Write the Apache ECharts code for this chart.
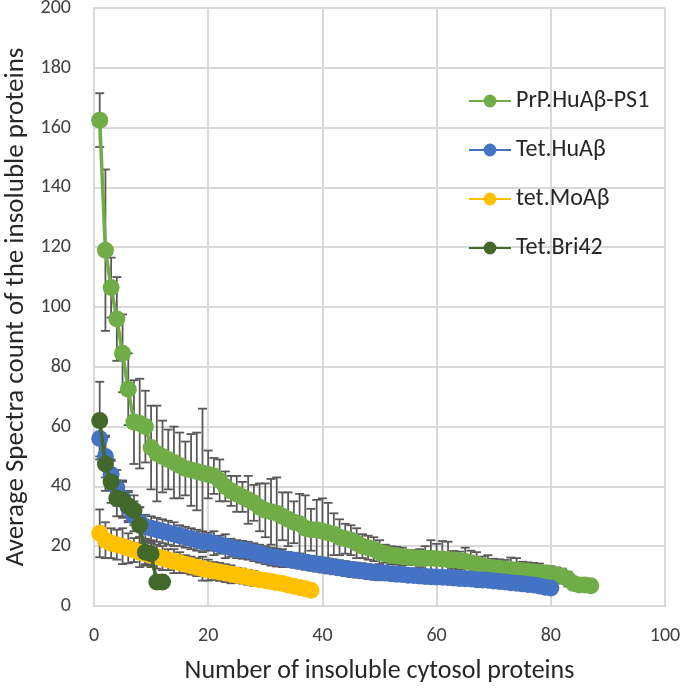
<!DOCTYPE html>
<html>
<head>
<meta charset="utf-8">
<script src="https://cdn.jsdelivr.net/npm/echarts@6/dist/echarts.min.js"></script>
<style>
    html, body { margin: 0; padding: 0; background: #fff; }
    #chart { width: 685px; height: 690px; }
</style>
</head>
<body>
<div id="chart"></div>
<script>
    // series names
    var names = ['PrP.HuAβ-PS1', 'Tet.HuAβ', 'tet.MoAβ', 'Tet.Bri42'];

    // average spectra count, one value per ranked protein (x = 1..n)
    var prpHuVals = [162.5, 119, 106.5, 96, 84.5, 72.5, 61.5, 61, 60, 53,
        51, 50, 49, 48, 47, 46, 45.5, 45, 44.5, 44,
        43.5, 42, 40, 38.5, 37.5, 36.5, 35.5, 34.5, 33, 32,
        31.5, 31, 30, 29, 28, 27.5, 26, 25.5, 25.5, 25,
        24.5, 24, 23, 22.5, 22, 21, 20, 19.5, 19, 18,
        17.5, 17, 16.8, 16.5, 16.3, 16.2, 16, 16, 16, 15.8,
        15.7, 15.5, 15.4, 15.2, 15, 14.5, 14, 13.5, 13, 12.8,
        12.6, 12.4, 12.2, 12, 11.8, 11.6, 11.4, 11.2, 11, 10.8,
        10.4, 10, 9, 7.5, 7, 7, 6.8];
    var prpHuErr = [9, 27, 10, 14, 13, 12, 14, 15, 12, 14,
        16, 12, 10, 12, 11, 9, 12, 13, 21.5, 8,
        6, 7, 5, 5, 6, 5, 8, 6, 8, 9,
        11, 12, 8, 9, 7, 10, 11, 7, 10, 11,
        10, 7, 6, 5, 5, 5, 4, 4, 4, 4,
        3, 3, 3, 3, 2.5, 2.5, 3, 4, 6, 5,
        6, 6, 3, 3, 4.5, 4, 4, 3, 4, 3,
        3, 3, 4, 4, 3, 3, 3, 3, 2.5, 2.5,
        2.5, 2.5, 2.5, 2, 1.5, 1, 1];

    var tetHuVals = [56, 50, 44, 39.5, 36, 33, 30, 28, 26.5, 26,
        25.5, 25, 24.5, 24, 23.5, 23, 22.5, 22, 21.5, 21.5,
        21, 20.5, 20, 19.5, 19, 18.8, 18.5, 18, 17.5, 17,
        16.5, 16.2, 16, 15.6, 15.3, 15, 14.6, 14.3, 14, 13.7,
        13.4, 13.1, 12.8, 12.5, 12.2, 12, 11.8, 11.5, 11.3, 11.1,
        11, 10.8, 10.6, 10.5, 10.3, 10.2, 10, 9.9, 9.8, 9.7,
        9.6, 9.5, 9.4, 9.2, 9.1, 9, 8.8, 8.7, 8.6, 8.4,
        8.2, 8, 7.8, 7.6, 7.4, 7.2, 7, 6.7, 6.3, 6];
    var tetHuErr = [6, 7, 5, 6, 6, 5, 5, 5, 4, 4,
        4, 4, 4, 4, 3.5, 3.5, 3.5, 3.5, 3.5, 3,
        4, 3, 4, 3, 3, 3, 3, 3, 3, 3,
        3, 3, 3, 2.5, 2.5, 2.5, 2.5, 2.5, 2.5, 2.5,
        2.5, 2.5, 2.5, 2.5, 2.5, 2.5, 2.5, 2.5, 2.5, 2.5,
        2, 2, 2, 2, 2, 2, 2, 2, 2, 2,
        2, 2, 2, 2, 2, 2, 2, 2, 2, 2,
        2, 2, 2, 2, 1.5, 1.5, 1.5, 1.5, 1.5, 1.5];

    var tetMoVals = [24.3, 22, 21, 20.5, 20, 19.3, 18.7, 18, 17.5, 17,
        16.5, 16, 15.5, 15, 14.5, 14, 13.5, 13, 12.5, 12,
        11.7, 11.4, 11, 10.6, 10.3, 10, 9.6, 9.2, 8.8, 8.5,
        8.2, 7.8, 7.5, 7, 6.6, 6.2, 5.8, 5.3];
    var tetMoErr = [8, 6, 5, 5, 6, 5, 4, 5, 4, 4,
        4, 4, 3.5, 4, 3.5, 3, 3, 3, 4, 3.5,
        3, 3, 3, 3, 2.5, 2.5, 2.5, 2.5, 2, 2,
        2, 2, 2, 2, 1.5, 1.5, 1.5, 1.5];

    var tetBriVals = [62, 47.5, 41.5, 36, 35.5, 33.5, 32, 27, 18, 17.5, 8, 8];
    var tetBriErr = [13, 9, 7, 6, 6, 5, 5, 6, 4, 4, 2, 2];

    var xTicks = [0, 20, 40, 60, 80, 100];
    var yTicks = [0, 20, 40, 60, 80, 100, 120, 140, 160, 180, 200];

    var colors = ['#70AD47', '#4472C4', '#FFC000', '#43682B'];
    var allVals = [prpHuVals, tetHuVals, tetMoVals, tetBriVals];
    var allErr = [prpHuErr, tetHuErr, tetMoErr, tetBriErr];

    var font = 'Carlito, Lato, "Liberation Sans", sans-serif';

    function points(vals) {
        return vals.map(function (v, i) { return [i + 1, v]; });
    }
    function bars(vals, errs) {
        return vals.map(function (v, i) { return [i + 1, v - errs[i], v + errs[i]]; });
    }

    // error bar: vertical line with a cap at both ends
    function renderErr(params, api) {
        var x = api.value(0);
        var top = api.coord([x, api.value(2)]);
        var bot = api.coord([x, api.value(1)]);
        var w = 4.5;
        var st = { stroke: '#595959', lineWidth: 1.8 };
        return {
            type: 'group',
            children: [
                { type: 'line', shape: { x1: top[0], y1: top[1], x2: bot[0], y2: bot[1] }, style: st },
                { type: 'line', shape: { x1: top[0] - w, y1: top[1], x2: top[0] + w, y2: top[1] }, style: st },
                { type: 'line', shape: { x1: bot[0] - w, y1: bot[1], x2: bot[0] + w, y2: bot[1] }, style: st }
            ]
        };
    }

    var series = [];
    names.forEach(function (n, k) {
        series.push({
            name: n + ' err',
            type: 'custom',
            renderItem: renderErr,
            data: bars(allVals[k], allErr[k]),
            z: 1,
            silent: true
        });
    });
    names.forEach(function (n, k) {
        series.push({
            name: n,
            type: 'line',
            data: points(allVals[k]),
            symbol: 'circle',
            symbolSize: 17,
            color: colors[k],
            lineStyle: { width: 3.5, color: colors[k] },
            itemStyle: { color: colors[k] },
            z: 3 + k,
            animation: false
        });
    });

    var chart = echarts.init(document.getElementById('chart'));
    chart.setOption({
        animation: false,
        grid: { left: 94, right: 20, top: 8, bottom: 84, containLabel: false, outerBoundsMode: 'none' },
        legend: {
            data: names,
            orient: 'vertical',
            left: 463,
            top: 84,
            itemGap: 25,
            itemWidth: 42,
            itemHeight: 16,
            textStyle: { fontSize: 24, color: '#262626', fontFamily: font }
        },
        xAxis: {
            type: 'value',
            min: xTicks[0],
            max: xTicks[xTicks.length - 1],
            interval: 20,
            name: 'Number of insoluble cytosol proteins',
            nameLocation: 'middle',
            nameGap: 52,
            nameTextStyle: { fontSize: 26, color: '#262626', fontFamily: font },
            axisLine: { lineStyle: { color: '#D9D9D9', width: 2 } },
            axisTick: { show: false },
            axisLabel: { fontSize: 20, color: '#404040', fontFamily: font, margin: 20 },
            splitLine: { lineStyle: { color: '#D9D9D9', width: 2 } }
        },
        yAxis: {
            type: 'value',
            min: yTicks[0],
            max: yTicks[yTicks.length - 1],
            interval: 20,
            name: 'Average Spectra count of the insoluble proteins',
            nameLocation: 'middle',
            nameGap: 64,
            nameTextStyle: { fontSize: 27, color: '#262626', fontFamily: font },
            axisLine: { show: true, lineStyle: { color: '#D9D9D9', width: 2 } },
            axisTick: { show: false },
            axisLabel: { fontSize: 20, color: '#404040', fontFamily: font, margin: 23 },
            splitLine: { lineStyle: { color: '#D9D9D9', width: 2 } }
        },
        series: series
    });
</script>
</body>
</html>
